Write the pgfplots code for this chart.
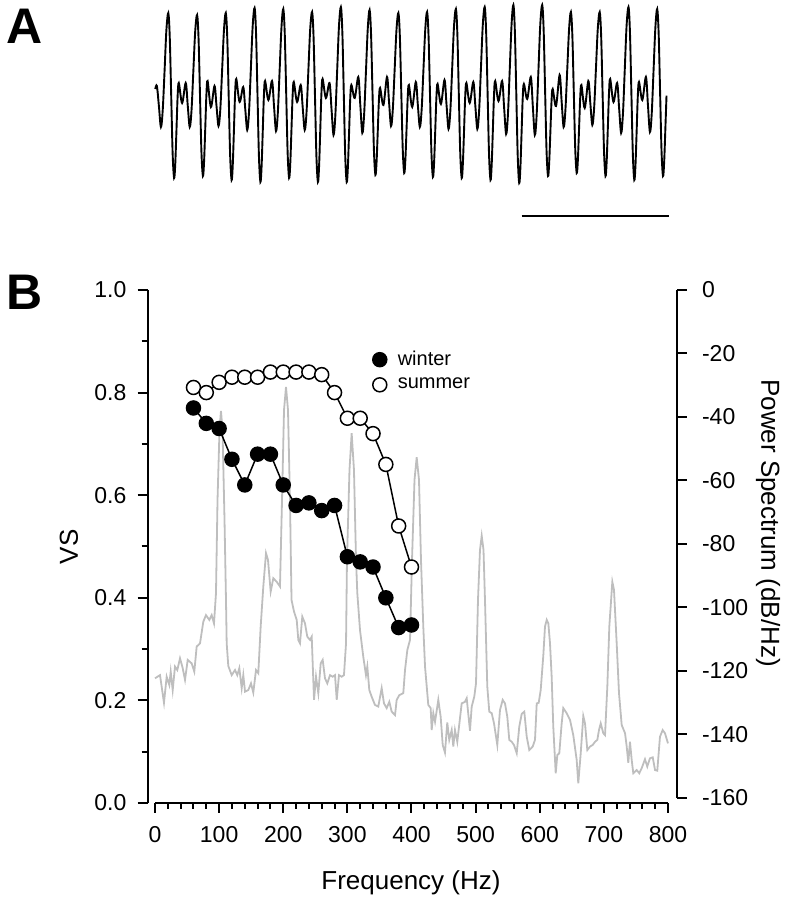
\documentclass[border=0pt]{standalone}
\usepackage{pgfplots}
\pgfplotsset{compat=1.18}
\usepackage{fontspec}
\setmainfont{Liberation Sans}
\definecolor{specgray}{RGB}{190,190,190}
\pgfplotsset{dotlegend/.style={legend image code/.code={\draw[##1] plot coordinates {(0cm,0cm)};}}}
\begin{document}
\begin{tikzpicture}[x=1pt,y=1pt]
\useasboundingbox (0,0) rectangle (393,450);
% ---------------- Panel A: waveform ----------------
\begin{axis}[
  scale only axis, width=265pt, height=115pt,
  at={(75pt,335pt)}, anchor=south west,
  xmin=150, xmax=680, ymin=0, ymax=230, y dir=reverse,
  axis lines=none, clip=false]
\addplot[black, line width=0.95pt, smooth, tension=0.55] coordinates {
(155.3,89) (156.9,86) (158.9,106) (160.9,127) (162.7,110.4) (164.6,70.1) (166.4,29.9)
(168.3,13) (169.75,37.1) (171.2,95.5) (172.65,153.9) (174.1,178) (175.25,164.1) (176.45,130.5) (177.6,96.9) (178.8,83) (182.1,103) (185.7,83) (187.7,105) (189.7,127) (191.5,110.6) (193.35,71) (195.2,31.4)
(197.1,15) (198.55,38.5) (200,95.5) (201.45,152.5) (202.9,176) (204.05,162.1) (205.25,128.5) (206.4,94.9) (207.6,81) (210.9,107) (214.5,86) (216.5,106) (218.5,126) (220.3,109.5) (222.15,69.5) (224,29.5)
(225.8,13) (227.25,37.4) (228.7,96.5) (230.15,155.6) (231.6,180) (232.75,165.3) (233.95,129.5) (235.1,93.7) (236.3,79) (239.6,102) (243.2,87) (245.2,108.5) (247.2,130) (249,112.2) (250.85,69) (252.7,25.8)
(254.6,8) (256.05,33.4) (257.5,95) (258.95,156.6) (260.4,182) (261.55,167.3) (262.75,131.5) (263.9,95.7) (265.1,81) (268.4,100) (272,81) (274,106) (276,131) (277.8,113.2) (279.65,70) (281.5,26.8)
(283.3,9) (284.75,33.7) (286.2,93.5) (287.65,153.3) (289.1,178) (290.25,164) (291.45,130) (292.6,96) (293.8,82) (297.1,102) (300.7,85) (302.7,107.5) (304.7,130) (306.5,112.8) (308.35,71) (310.2,29.2)
(312.1,12) (313.55,36.8) (315,97) (316.45,157.2) (317.9,182) (319.05,167) (320.25,130.5) (321.4,94) (322.6,79) (325.9,98) (329.5,83) (331.5,109) (333.5,135) (335.3,116.3) (337.15,71) (339,25.7)
(340.9,7) (342.35,32.6) (343.8,94.5) (345.25,156.5) (346.7,182) (347.85,167.8) (349.05,133.5) (350.2,99.2) (351.4,85) (354.7,98) (358.3,77) (360.3,105) (362.3,133) (364.1,115) (365.95,71.5) (367.8,28)
(369.6,10) (371.05,34.1) (372.5,92.5) (373.95,150.9) (375.4,175) (376.55,162.3) (377.75,131.5) (378.9,100.7) (380.1,88) (383.4,105) (387,77) (389,101.5) (391,126) (392.8,109.5) (394.65,69.5) (396.5,29.5)
(398.4,13) (399.85,36.4) (401.3,93) (402.75,149.6) (404.2,173) (405.35,160.2) (406.55,129) (407.7,97.8) (408.9,85) (412.2,107) (415.8,82) (417.8,104.5) (419.8,127) (421.6,110.2) (423.45,69.5) (425.3,28.8)
(427.1,12) (428.55,36.1) (430,94.5) (431.45,152.9) (432.9,177) (434.05,163.4) (435.25,130.5) (436.4,97.6) (437.6,84) (440.9,104) (444.5,80) (446.5,104.5) (448.5,129) (450.3,111.5) (452.15,69) (454,26.5)
(455.9,9) (457.35,33.7) (458.8,93.5) (460.25,153.3) (461.7,178) (462.85,164.1) (464.05,130.5) (465.2,96.9) (466.4,83) (469.7,103) (473.3,82) (475.3,105.5) (477.3,129) (479.1,111.2) (480.95,68) (482.8,24.8)
(484.7,7) (486.15,32.3) (487.6,93.5) (489.05,154.7) (490.5,180) (491.65,165.5) (492.85,130.5) (494,95.5) (495.2,81) (498.5,101) (502.1,81) (504.1,107.5) (506.1,134) (507.9,115.2) (509.75,69.5) (511.6,23.8)
(513.4,5) (514.85,31) (516.3,94) (517.75,157) (519.2,183) (520.35,168.5) (521.55,133.5) (522.7,98.5) (523.9,84) (527.2,99) (530.8,77) (532.8,106) (534.8,135) (536.6,116) (538.45,70) (540.3,24)
(542.2,5) (543.65,30) (545.1,90.5) (546.55,151) (548,176) (549.15,163.3) (550.35,132.5) (551.5,101.7) (552.7,89) (556,106) (559.6,75) (561.6,101) (563.6,127) (565.4,110.2) (567.25,69.5) (569.1,28.8)
(570.9,12) (572.35,35.5) (573.8,92.5) (575.25,149.5) (576.7,173) (577.85,160.2) (579.05,129) (580.2,97.8) (581.4,85) (584.7,108) (588.3,81) (590.3,103) (592.3,125) (594.1,108.5) (595.95,68.5) (597.8,28.5)
(599.7,12) (601.15,35.9) (602.6,94) (604.05,152) (605.5,176) (606.65,161.8) (607.85,127.5) (609,93.2) (610.2,79) (613.5,102) (617.1,83) (619.1,108) (621.1,133) (622.9,114.6) (624.75,70) (626.6,25.4)
(628.5,7) (629.95,32.3) (631.4,93.5) (632.85,154.7) (634.3,180) (635.45,165.7) (636.65,131) (637.8,96.3) (639,82) (642.3,100) (645.9,77) (647.9,104.5) (649.9,132) (651.7,114) (653.55,70.5) (655.4,27)
(657.2,9) (658.65,33.4) (660.1,92.5) (661.55,151.6) (663,176) (664.15,162.3) (665.35,129) (666.5,95.7)
};
% scale bar
\addplot[black, line width=1pt] coordinates {(521.5,216) (669,216)};
\end{axis}
% ---------------- Panel B: power spectrum (right axis) ----------------
\begin{axis}[
  scale only axis, width=256.5pt, height=254pt,
  at={(77.5pt,51pt)}, anchor=south west,
  xmin=0, xmax=800, ymin=-160, ymax=0,
  axis x line=none, axis y line*=right,
  axis y line shift=4.5pt,
  axis line style={line width=1pt, black},
  ytick={-160,-140,-120,-100,-80,-60,-40,-20,0},
  tick align=outside, major tick length=5pt,
  every tick/.style={line width=1pt, black},
  /pgf/number format/assume math mode=true,
  tick label style={font=\fontsize{11.5}{13}\selectfont},
  yticklabel style={font=\fontsize{11.5}{13}\selectfont},
  yticklabel shift=4pt,
  clip=false]
\addplot[specgray, line width=0.9pt] coordinates {
(0,-122.3) (7.8,-121.3) (14.0,-130.0) (18.2,-121.8) (22.3,-124.4) (24.5,-120.2) (27.6,-126.0) (31.2,-118.6) (34.8,-119.7) (39.0,-116.0)
(43.2,-119.1) (46.8,-122.8) (51.0,-116.5) (57.2,-117.6) (61.3,-120.2) (65.0,-112.3) (70.2,-111.3) (75.3,-104.5) (79.5,-102.4) (84.7,-103.9)
(88.4,-102.4) (92.0,-105.0) (95.1,-95.5) (97.5,-66.1) (100.6,-44.1) (102.9,-38.1) (105.3,-44.1) (108.4,-72.4) (110.7,-97.6) (111.8,-111.3)
(114.3,-118.4) (119.6,-121.3) (124.8,-119.7) (128.3,-121.3) (131.5,-119.1) (135.2,-125.4) (137.7,-121.3) (140.4,-126.5) (145.5,-126.0) (149.7,-123.9)
(153.3,-126.8) (157.5,-119.7) (161.1,-120.7) (164.8,-106.0) (168.9,-93.4) (173.1,-82.9) (176.2,-85.0) (180.4,-95.0) (184.5,-90.8) (189.8,-91.9)
(194.9,-93.4) (198.1,-66.1) (201.2,-37.8) (204.3,-30.5) (207.4,-37.8) (210.5,-66.1) (212.9,-97.6) (216.8,-101.3) (221.0,-103.9) (223.5,-110.2)
(226.1,-111.3) (229.7,-102.9) (233.9,-105.0) (237.5,-109.2) (241.7,-110.2) (244.4,-109.2) (248.0,-129.1) (251.1,-121.8) (254.7,-127.0) (258.4,-117.6)
(261.5,-116.5) (265.1,-122.3) (268.7,-123.9) (272.9,-121.3) (277.1,-121.8) (280.7,-121.3) (283.4,-129.1) (286.9,-121.3) (291.1,-121.8) (294.7,-121.3)
(297.9,-111.3) (299.4,-85.0) (303.3,-56.7) (306.7,-45.1) (310.3,-56.7) (313.5,-85.0) (315.5,-95.5) (319.7,-107.1) (324.8,-115.5) (329.0,-121.3)
(331.1,-118.6) (334.2,-126.0) (337.9,-128.1) (343.1,-130.7) (348.2,-131.2) (353.5,-125.4) (357.1,-130.2) (361.3,-131.7) (365.4,-129.7) (369.1,-132.8)
(374.3,-133.9) (376.9,-129.1) (381.0,-127.6) (387.2,-127.0) (389.9,-119.7) (393.5,-113.4) (397.7,-110.2) (400.8,-85.0) (404.7,-59.8) (408.1,-52.7)
(411.7,-59.8) (414.8,-85.0) (418.4,-106.0) (421.1,-118.6) (426.2,-130.7) (429.9,-131.7) (431.5,-138.6) (434.0,-133.3) (436.7,-136.0) (441.8,-129.1)
(445.5,-134.4) (448.7,-143.3) (452.2,-145.7) (455.8,-136.2) (458.9,-141.7) (462.7,-138.6) (465.2,-143.8) (467.8,-138.6) (471.4,-142.3) (475.6,-134.9)
(478.3,-130.2) (483.4,-129.7) (486.1,-128.6) (491.2,-138.8) (493.9,-131.2) (497.9,-128.1) (500.6,-123.9) (503.7,-97.6) (506.8,-81.9) (509.5,-77.4)
(512.3,-81.9) (514.6,-97.6) (518.2,-124.9) (521.3,-132.8) (525.1,-133.3) (528.7,-136.5) (533.8,-143.3) (538.0,-132.3) (542.2,-129.1) (545.8,-130.2)
(549.4,-134.4) (552.5,-141.7) (556.3,-142.3) (559.8,-143.3) (564.1,-145.9) (568.1,-137.5) (571.9,-133.5) (575.9,-132.8) (579.7,-140.7) (583.7,-144.9)
(589.0,-143.8) (592.6,-141.7) (595.3,-130.2) (598.4,-130.0) (601.5,-126.0) (605.6,-115.0) (608.2,-106.0) (610.9,-103.9) (613.4,-105.0) (616.0,-111.3)
(618.6,-121.8) (621.1,-137.5) (624.9,-152.2) (627.4,-146.5) (630.5,-145.9) (634.2,-136.5) (636.7,-131.7) (642.0,-133.3) (647.2,-135.4) (652.3,-140.2)
(657.6,-148.0) (660.1,-155.4) (663.9,-145.9) (667.9,-134.2) (670.6,-136.5) (674.2,-144.9) (678.4,-143.8) (682.6,-143.3) (686.2,-142.3) (689.8,-141.7)
(692.4,-138.6) (695.1,-136.5) (699.1,-139.6) (701.8,-140.2) (705.4,-124.9) (708.5,-106.0) (713.2,-91.9) (715.8,-94.5) (720.0,-111.3) (723.6,-127.0)
(727.8,-137.0) (733.0,-139.6) (735.6,-143.8) (738.1,-148.9) (740.7,-142.3) (743.4,-148.0) (745.9,-152.2) (751.2,-151.2) (755.2,-152.2) (759.0,-150.6)
(764.1,-147.8) (767.7,-150.1) (771.9,-147.5) (776.2,-147.2) (779.8,-151.2) (783.3,-151.4) (787.5,-140.7) (791.7,-138.6) (795.3,-139.6) (800,-142.8)
};
\end{axis}
% ---------------- Panel B: vector strength (left axis) ----------------
\begin{axis}[
  scale only axis, width=256.5pt, height=256.5pt,
  at={(77.5pt,48.5pt)}, anchor=south west,
  xmin=0, xmax=800, ymin=0, ymax=1,
  axis x line*=bottom, axis y line*=left,
  axis y line shift=3.75pt,
  axis line style={line width=1pt, black},
  xtick={0,100,200,300,400,500,600,700,800}, minor x tick num=4,
  ytick={0,0.2,0.4,0.6,0.8,1}, minor y tick num=1,
  tick align=outside, major tick length=5pt, minor tick length=3pt,
  every tick/.style={line width=1pt, black},
  /pgf/number format/assume math mode=true,
  tick label style={font=\fontsize{11.5}{13}\selectfont},
  xticklabel style={font=\fontsize{11.5}{13}\selectfont},
  yticklabel style={font=\fontsize{11.5}{13}\selectfont, /pgf/number format/.cd, fixed, fixed zerofill, precision=1},
  xticklabel shift=3pt, yticklabel shift=2pt,
  legend style={at={(axis cs:339,0.882)}, anchor=north west, draw=none, fill=none,
    inner sep=0pt, font=\fontsize{10}{12}\selectfont, row sep=4.7pt, column sep=5.5pt,
    nodes={inner sep=0pt}, cells={anchor=west}},
  clip=false]
\addplot[black, line width=0.75pt, mark=*, mark size=3.5pt, mark options={fill=black}, dotlegend] coordinates {
(60,0.77) (80,0.74) (100,0.73) (120,0.67) (140,0.62) (160,0.68) (180,0.68) (200,0.62) (220,0.58)
(240,0.585) (260,0.57) (280,0.58) (300,0.48) (320,0.47) (340,0.46) (360,0.40) (380,0.342) (400,0.347)
};
\addlegendentry{winter}
\addplot[black, line width=0.75pt, mark=*, mark size=3.5pt, mark options={fill=white}, dotlegend] coordinates {
(60,0.81) (80,0.80) (100,0.82) (120,0.83) (140,0.83) (160,0.83) (180,0.84) (200,0.84) (220,0.84)
(240,0.84) (260,0.835) (280,0.80) (300,0.75) (320,0.75) (340,0.72) (360,0.66) (380,0.54) (400,0.46)
};
\addlegendentry{summer}
\end{axis}
% ---------------- labels ----------------
\node[font=\fontsize{13}{15}\selectfont] at (205.5,8.5) {Frequency (Hz)};
\node[rotate=90, font=\fontsize{13}{15}\selectfont] at (34.5,176.5) {VS};
\node[rotate=-90, font=\fontsize{13}{15}\selectfont] at (384,188.5) {Power Spectrum (dB/Hz)};
\node[font=\fontsize{25}{30}\selectfont\bfseries, inner sep=0pt] at (12.5,437) {A};
\node[font=\fontsize{25}{30}\selectfont\bfseries, inner sep=0pt] at (12.5,304) {B};
\end{tikzpicture}
\end{document}
